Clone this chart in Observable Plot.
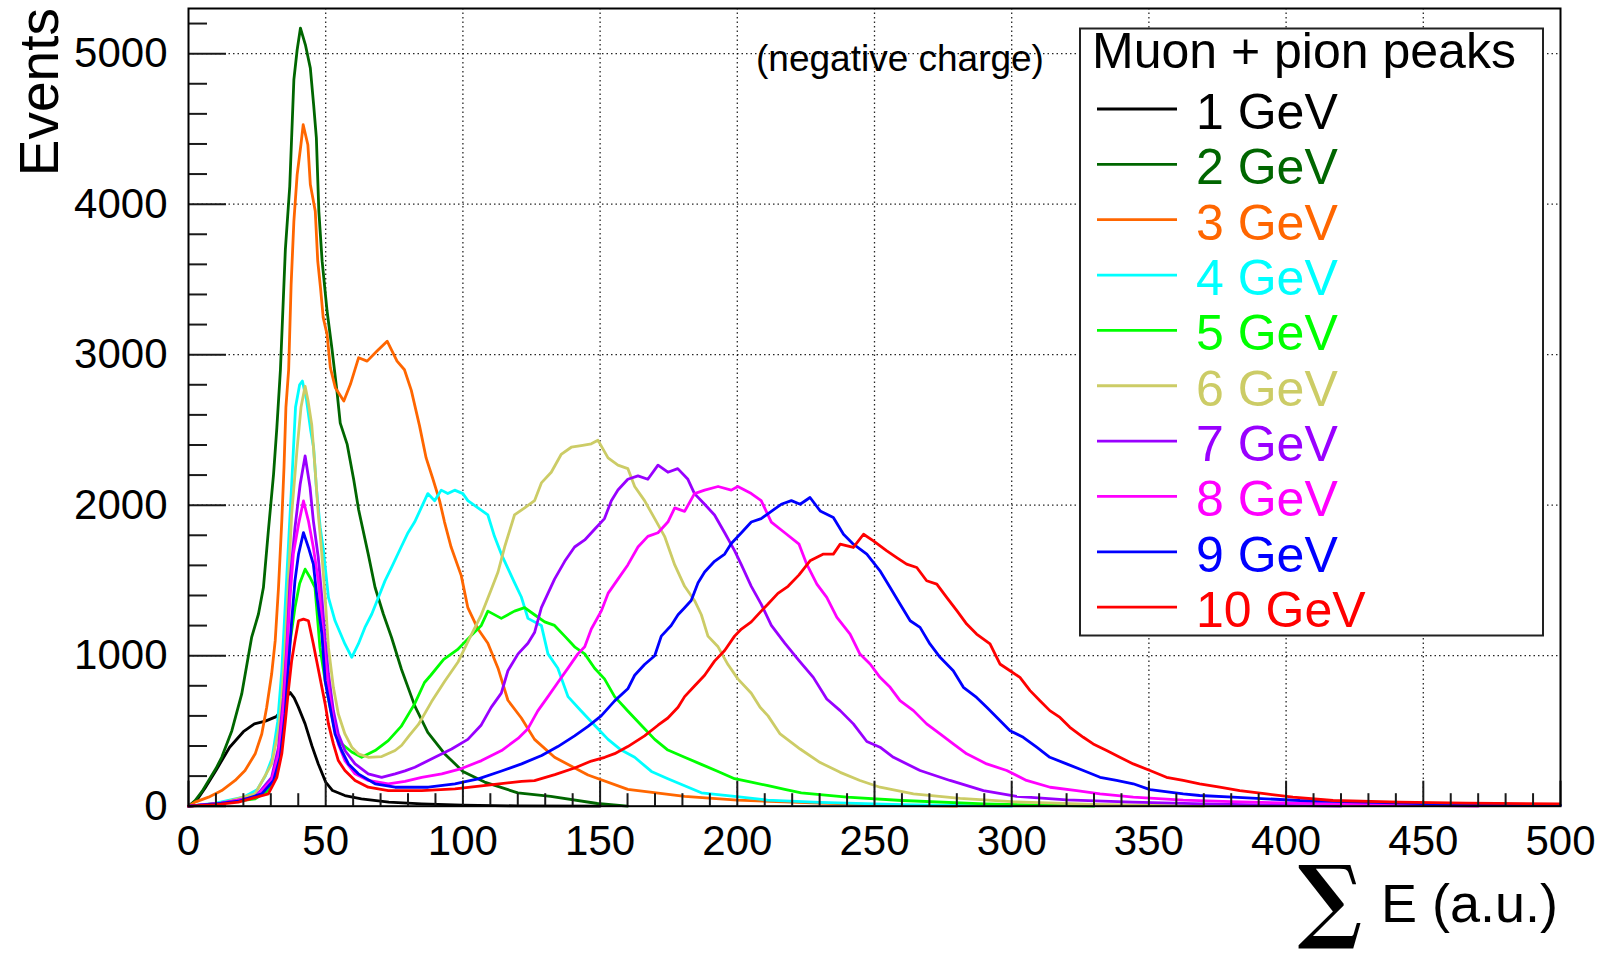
<!DOCTYPE html>
<html>
<head>
<meta charset="utf-8">
<script src="https://cdn.jsdelivr.net/npm/d3@7"></script>
<script src="https://cdn.jsdelivr.net/npm/@observablehq/plot@0.6"></script>
<style>
  body { margin: 0; background: #fff; }
  #chart { position: relative; width: 1612px; height: 953px; }
</style>
</head>
<body>
<div id="chart"></div>
<script>
// ---------- DATA ----------
const energies = ["1 GeV","2 GeV","3 GeV","4 GeV","5 GeV","6 GeV","7 GeV","8 GeV","9 GeV","10 GeV"];
const colors = ["#000000","#006600","#ff6600","#00ffff","#00ff00","#cccc66","#9900ff","#ff00ff","#0000ff","#ff0000"];

// [sum E (a.u.), events]
const e1GeV = [[0,0],[3,40],[6,120],[10,237],[15,392],[20,495],[24,547],[28,565],[32,595],[34,640],[35.5,720],[37,756],[38.5,720],[40,660],[42.5,547],[45,400],[47.3,280],[50,160],[52.5,104],[57,71],[63,49],[73,27],[85,16],[100,7],[120,2],[150,0]];
const e2GeV = [[0,0],[2.4,38],[5,100],[7.3,170],[10,250],[12.1,325],[15.8,502],[19.4,746],[23,1121],[25.5,1277],[27.3,1453],[29.1,1829],[31,2206],[32.2,2515],[33.5,2900],[35.3,3699],[36.9,4119],[38.4,4827],[39.6,5026],[40.8,5170],[42.6,5059],[44.4,4904],[45.6,4661],[46.6,4440],[47.5,3953],[48.7,3621],[50.5,3290],[52.3,3036],[54.1,2758],[55.3,2545],[57.8,2406],[60.2,2170],[62,1970],[65.5,1675],[68,1453],[71,1277],[74,1121],[77.6,910],[82.5,665],[87.2,491],[93.3,349],[100,231],[107.9,160],[120,89],[132,65],[149,18],[160,0]];
const e3GeV = [[0,0],[2.4,27],[7.3,60],[12.1,104],[17,171],[20.6,237],[24.3,348],[26.7,480],[28.5,657],[30.3,878],[31.6,1100],[32.8,1453],[34,1896],[34.8,2250],[35.5,2650],[36.5,2900],[37.4,3466],[38.4,3886],[39.6,4196],[41,4400],[41.8,4528],[43.5,4395],[44.4,4130],[46.2,3953],[47.1,3621],[48.1,3445],[49.1,3245],[50.5,3135],[51.7,2913],[53.5,2781],[56.6,2692],[59,2803],[62,2980],[65.1,2957],[68.7,3024],[72.4,3090],[76,2957],[78.7,2900],[81.2,2763],[84.2,2527],[86.6,2314],[89.1,2172],[91.5,2030],[93.3,1888],[95.7,1722],[99.4,1532],[101.8,1319],[105.5,1177],[109.1,1083],[112.8,917],[116.4,704],[121.3,586],[126.1,444],[133.4,325],[145.6,207],[160.1,112],[180.8,65],[200,40],[230,20],[260,5],[280,0]];
const e4GeV = [[0,0],[10,20],[20,60],[25,110],[28,200],[30.5,320],[32.5,560],[34,900],[35.8,1520],[37.6,2139],[39,2650],[40.5,2800],[41.5,2825],[43,2700],[44.5,2500],[45.6,2382],[46.6,2117],[48,1850],[49.2,1697],[51,1387],[53.4,1232],[57,1078],[59.5,989],[61.9,1078],[64.3,1188],[66.8,1277],[69.2,1387],[71.6,1497],[74,1586],[77.5,1722],[80,1817],[82.4,1888],[84.8,1982],[87.2,2077],[89.7,2030],[92.1,2100],[94.5,2077],[97,2100],[100,2077],[101.8,2030],[105.5,1982],[109.1,1935],[111.5,1793],[114,1675],[116.4,1580],[118.8,1485],[121.3,1390],[123.7,1248],[128.6,1201],[131,1012],[134.6,917],[138.3,728],[143.1,633],[148,538],[152.9,444],[157.7,373],[162.6,325],[168.7,231],[174.7,183],[180.8,136],[186.9,89],[199,65],[211,41],[230,25],[260,10],[300,0]];
const e5GeV = [[0,0],[12,20],[24.3,49],[29.1,104],[32.2,281],[34.6,635],[36.4,1011],[38.8,1320],[40.5,1480],[42.5,1575],[44.3,1520],[46.1,1453],[47.9,1055],[49.8,834],[51.6,657],[53.4,502],[55.8,414],[59.5,360],[63.1,325],[68,370],[72.8,436],[77.5,530],[82.4,680],[86,822],[88.3,870],[93,975],[98,1040],[102,1115],[106.7,1201],[109.1,1296],[114,1248],[118.8,1296],[122.5,1319],[126.1,1272],[129.8,1225],[133.4,1201],[137.1,1130],[140.7,1059],[144.4,1012],[148,917],[151.6,846],[155.3,728],[160.1,633],[165,538],[169.9,444],[174.7,373],[180.8,325],[186.9,278],[193,231],[199,183],[205.1,160],[211.2,136],[217.3,112],[223.3,89],[240,60],[260,38],[290,15],[330,0]];
const e6GeV = [[0,0],[12,20],[24.3,82],[30.3,281],[32.8,502],[34,723],[35.2,1055],[36.4,1498],[37.6,1940],[39.5,2360],[41,2650],[42.5,2790],[43.5,2700],[44.9,2537],[46.1,2250],[47.3,1940],[48.6,1675],[49.8,1387],[51,1055],[52.8,790],[54.6,613],[57,480],[59.5,392],[61.9,348],[65.5,325],[70.4,330],[75.3,370],[77.7,405],[80.5,470],[83.8,543],[88.6,695],[93.5,834],[98.3,960],[102,1100],[106.7,1272],[110.3,1438],[112.8,1556],[115.2,1722],[118.8,1935],[122.5,1982],[126.1,2030],[128.6,2148],[132.2,2219],[135.8,2337],[139.5,2385],[143.1,2396],[146.8,2408],[149.2,2432],[152.9,2314],[156.5,2266],[160.1,2243],[162.6,2124],[166.2,2030],[169.9,1911],[173.5,1793],[177.2,1603],[180.8,1461],[184.4,1367],[186.9,1272],[189.3,1130],[193,1059],[196.6,941],[200.2,846],[205.1,751],[208.3,657],[211.2,600],[215.6,480],[222.9,380],[230.2,290],[237.5,225],[244.7,171],[252,126],[264.2,82],[281.2,52],[300,30],[330,12],[370,0]];
const e7GeV = [[0,0],[12,20],[24.3,60],[30.3,192],[32.8,392],[34.6,723],[35.8,1055],[37,1498],[38.8,1851],[40.7,2139],[42.5,2327],[44.3,2117],[45.5,1896],[47.3,1652],[48.6,1387],[49.8,1100],[51,878],[52.8,635],[54.6,480],[57,370],[60.7,281],[65.5,215],[70.4,192],[75.3,215],[78.9,235],[82.5,259],[89.8,325],[95.9,380],[101.8,444],[106.7,540],[110.3,657],[114,751],[116.4,900],[120.1,1012],[123.7,1083],[126.1,1154],[128.6,1319],[131,1414],[133.4,1509],[137.1,1627],[140.7,1722],[144.4,1769],[148,1840],[151.6,1911],[154.1,2030],[156.5,2101],[160.1,2172],[163.8,2195],[167.4,2172],[171.1,2266],[174.7,2219],[178.3,2243],[182,2172],[184.4,2077],[188.1,2006],[191.7,1935],[195.4,1817],[199,1698],[201.5,1603],[205.1,1461],[208.7,1343],[212.4,1201],[217.3,1083],[222.5,967],[227.7,856],[232.6,712],[237.5,635],[242.3,547],[247.2,430],[252,392],[256.9,325],[266.6,237],[277.5,171],[289.7,104],[301.8,65],[320,42],[344,27],[370,15],[400,5],[420,0]];
const e8GeV = [[0,0],[12,20],[24.3,60],[30.3,171],[32.8,348],[34.6,657],[35.8,1011],[37,1387],[38.2,1675],[40.1,1874],[41.9,2028],[43.7,1896],[45.5,1719],[47.3,1498],[48.6,1232],[49.8,989],[51,790],[52.8,569],[54.6,414],[57,303],[60.7,215],[65.5,171],[72.8,149],[78.9,165],[85,192],[92.3,215],[99.5,250],[106.8,303],[114.1,370],[120.1,450],[123.7,515],[127.3,633],[131,728],[134.6,822],[138.3,917],[141.9,1012],[144.4,1059],[146.8,1177],[150.4,1296],[152.9,1414],[156.5,1509],[160.1,1603],[163.8,1722],[167.4,1793],[171.1,1817],[174.7,1888],[177.2,1982],[180.8,1959],[184.4,2077],[188.1,2100],[193,2124],[197.8,2100],[200.2,2124],[205.1,2077],[208.7,2030],[212.4,1888],[217.3,1817],[222.5,1741],[225.3,1608],[229,1476],[232.6,1387],[236.3,1254],[241.1,1144],[244.7,1011],[248.4,945],[252,856],[255.7,790],[259.3,701],[264.2,635],[269,547],[273.9,480],[278.7,414],[283.6,348],[290.9,281],[298.2,237],[305.4,171],[314,126],[323.7,104],[332.2,82],[344.3,60],[362.5,40],[380,30],[405,20],[440,8],[470,0]];
const e9GeV = [[0,0],[10,15],[18.2,33],[26.7,82],[31,171],[33.4,325],[35.2,613],[36.4,922],[37.6,1232],[38.8,1498],[40.1,1675],[41.9,1818],[43.7,1719],[45.5,1608],[46.7,1409],[48.6,1144],[49.8,834],[51.6,657],[53.4,480],[55.8,370],[58.3,281],[61.9,215],[68,149],[75.3,126],[87.4,126],[97.1,149],[100,160],[105.6,182],[114.1,234],[121.4,281],[128.7,337],[134.6,396],[140.7,467],[145.6,530],[150.4,600],[155.3,700],[160.1,780],[162.6,870],[166.2,941],[169.9,1000],[172.3,1130],[175.9,1201],[178.4,1272],[180.8,1319],[183.2,1367],[185.7,1485],[188.1,1556],[191.7,1627],[195.4,1675],[197.8,1746],[201.5,1817],[205.1,1888],[208.7,1911],[212.4,1959],[216,2006],[219.7,2030],[222.9,2006],[226.5,2051],[230.2,1962],[235,1918],[238.7,1807],[242.3,1741],[247.2,1675],[252,1564],[255.7,1453],[259.3,1343],[263,1232],[266.6,1188],[270.2,1078],[273.9,989],[278.7,900],[282.4,790],[287.2,723],[290.9,657],[295.7,569],[299.4,502],[304.2,458],[309.1,392],[313.9,325],[320,281],[326.1,237],[332.2,192],[338.2,171],[344.3,149],[350.4,110],[362.5,82],[368.5,71],[380.6,60],[392.8,49],[405,38],[429,27],[453,16],[480,8],[500,5]];
const e10GeV = [[0,0],[10,10],[18.2,27],[29.1,82],[32.2,192],[34,348],[35.2,547],[36.4,768],[37.6,967],[38.8,1100],[40.1,1232],[41.9,1243],[43.7,1232],[45.5,1078],[46.7,967],[48.6,790],[49.8,680],[51,547],[52.8,414],[54.6,303],[57,237],[60.7,171],[65.5,126],[72.8,104],[85,104],[97.1,115],[109.2,140],[121.4,165],[126.1,170],[133.5,210],[140.7,254],[146.8,300],[151.7,325],[155.3,349],[160.1,396],[166.2,467],[171.1,538],[174.7,586],[178.4,657],[180.8,728],[184.4,799],[188.1,870],[191.7,964],[195.4,1035],[199,1130],[201.5,1177],[205.1,1225],[208.7,1296],[211.2,1343],[214.8,1414],[218.5,1461],[222.5,1537],[226.5,1630],[231.4,1675],[235,1675],[237.5,1741],[242.3,1719],[246,1807],[249.6,1763],[254.5,1697],[258.1,1652],[261.7,1608],[265.4,1586],[269,1498],[272.7,1476],[276.3,1387],[280,1299],[283.6,1210],[287.2,1144],[292.1,1078],[295.7,945],[299.4,900],[303,856],[306.7,768],[310.3,701],[313.9,635],[317.6,590],[321.2,524],[326.1,458],[329.7,414],[334.6,370],[339.4,325],[344.3,281],[350.4,237],[356.4,192],[362.5,171],[368.5,149],[375.8,126],[383.1,104],[392.8,82],[402.5,60],[417.1,38],[441.3,27],[465.6,20],[499.6,16]];

const series = [e1GeV,e2GeV,e3GeV,e4GeV,e5GeV,e6GeV,e7GeV,e8GeV,e9GeV,e10GeV];

const xTicks = [0,50,100,150,200,250,300,350,400,450,500];
const yTicks = [0,1000,2000,3000,4000,5000];
const xMinorTicks = d3.range(0, 501, 10).filter(v => v % 50 !== 0);
const yMinorTicks = d3.range(0, 5201, 200).filter(v => v % 1000 !== 0);
const xGrid = [50,100,150,200,250,300,350,400,450];
const yGrid = [1000,2000,3000,4000,5000];

const titleText = "Muon + pion peaks";
const noteText = "(negative charge)";
const yTitle = "Events";
const xTitle = "E (a.u.)";

// ---------- LAYOUT ----------
const W = 1612, H = 953;
const mL = 188, mR = 52, mT = 8, mB = 147.3;
const innerW = W - mL - mR, innerH = H - mT - mB;
const FONT = "'Liberation Sans', Arial, Helvetica, sans-serif";

const gridStyle = {stroke: "#000", strokeOpacity: 0.85, strokeWidth: 1.3, strokeDasharray: "1.5,3"};
const tickStyle = {stroke: "#1a1a1a", strokeWidth: 2};

const lineMarks = series.map((s, i) =>
  Plot.line(s, {x: d => d[0], y: d => d[1], stroke: colors[i], strokeWidth: 2.8, curve: "linear"})
);

const svg = Plot.plot({
  width: W, height: H,
  marginLeft: mL, marginRight: mR, marginTop: mT, marginBottom: mB,
  x: {domain: [0, 500]},
  y: {domain: [0, 5300]},
  style: {fontFamily: FONT, background: "#fff", color: "#000"},
  marks: [
    Plot.ruleX(xGrid, {x: d => d, ...gridStyle}),
    Plot.ruleY(yGrid, {y: d => d, ...gridStyle}),
    ...lineMarks,
    Plot.ruleY(yTicks, {y: d => d, insetRight: innerW - 38, ...tickStyle}),
    Plot.ruleY(yMinorTicks, {y: d => d, insetRight: innerW - 19, ...tickStyle}),
    Plot.ruleX(xTicks, {x: d => d, insetTop: innerH - 25, ...tickStyle}),
    Plot.ruleX(xMinorTicks, {x: d => d, insetTop: innerH - 12.5, ...tickStyle}),
    Plot.axisX({ticks: xTicks, tickSize: 0, tickPadding: 19, fontSize: 42, tickFormat: "d", label: null}),
    Plot.axisY({ticks: yTicks, tickSize: 0, tickPadding: 21, fontSize: 42, tickFormat: "d", label: null}),
    Plot.frame({stroke: "#000", strokeWidth: 2})
  ]
});

document.getElementById("chart").appendChild(svg);

// ---------- ANNOTATIONS & LEGEND ----------
const s = d3.select(svg);
const ann = s.append("g").attr("font-family", FONT).attr("fill", "#000");

// y title
ann.append("text")
  .attr("transform", "translate(58,8) rotate(-90)")
  .attr("text-anchor", "end")
  .attr("font-size", 55)
  .text(yTitle);

// x title: big sigma + text
ann.append("text")
  .attr("x", 1558).attr("y", 921.5)
  .attr("text-anchor", "end")
  .attr("font-size", 54)
  .text(xTitle);
ann.append("text")
  .attr("transform", "translate(1330,931) scale(0.93,1)")
  .attr("text-anchor", "middle")
  .attr("font-family", "'DejaVu Serif', 'Liberation Serif', serif")
  .attr("font-size", 92)
  .attr("font-weight", "bold")
  .text("\u2211");

// note
ann.append("text")
  .attr("x", 756).attr("y", 71)
  .attr("text-anchor", "start")
  .attr("font-size", 37)
  .text(noteText);

// legend
const lg = s.append("g").attr("font-family", FONT).attr("text-anchor", "start");
lg.append("rect")
  .attr("x", 1080).attr("y", 28.5).attr("width", 463).attr("height", 607)
  .attr("fill", "#fff").attr("stroke", "#222").attr("stroke-width", 2);
lg.append("text")
  .attr("x", 1092).attr("y", 68)
  .attr("text-anchor", "start")
  .attr("font-size", 50).attr("fill", "#000")
  .text(titleText);
energies.forEach((lab, i) => {
  const y = 109 + i * 55.35;
  lg.append("line")
    .attr("x1", 1097).attr("x2", 1177).attr("y1", y).attr("y2", y)
    .attr("stroke", colors[i]).attr("stroke-width", 2.8);
  lg.append("text")
    .attr("x", 1196).attr("y", y + 20)
    .attr("text-anchor", "start")
    .attr("font-size", 50).attr("fill", colors[i])
    .text(lab);
});
</script>
</body>
</html>
